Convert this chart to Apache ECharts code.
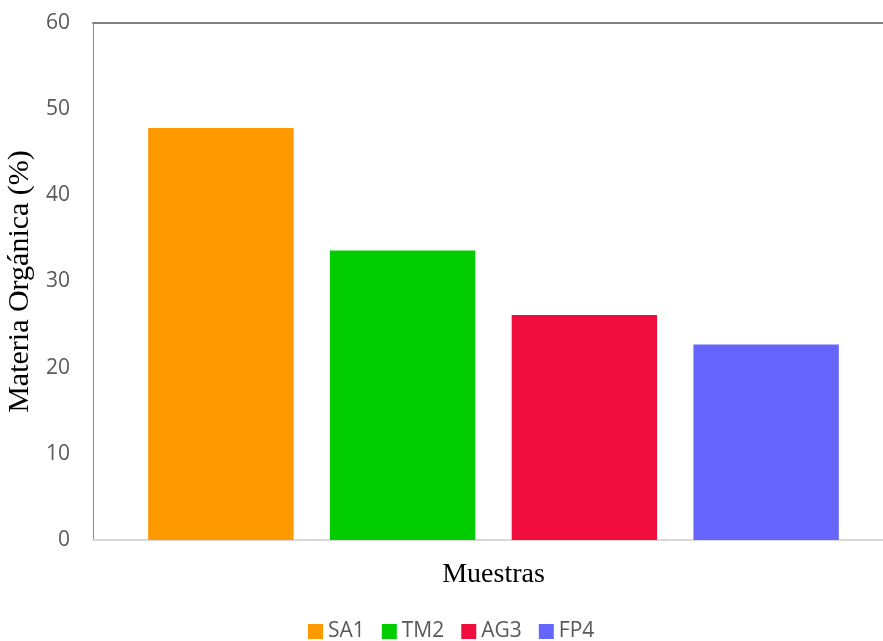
<!DOCTYPE html>
<html>
<head>
<meta charset="utf-8">
<script src="https://cdn.jsdelivr.net/npm/echarts@6/dist/echarts.min.js"></script>
<style>
  html, body { margin: 0; padding: 0; background: #ffffff; }
  #chart { width: 883px; height: 641px; }
</style>
</head>
<body>
<div id="chart"></div>
<script>
// Organic matter content per sample
const categories = ['SA1', 'TM2', 'AG3', 'FP4'];
const values = [47.8, 33.6, 26.1, 22.7];
const colors = ['#FF9900', '#00CC00', '#F20D3F', '#6666FF'];
const yTicks = { min: 0, max: 60, interval: 10 };

// One series per sample so each gets its own legend entry; stacking keeps bars full width
const barSeries = categories.map((name, i) => ({
  name: name,
  type: 'bar',
  stack: 'samples',
  xAxisIndex: 2,
  yAxisIndex: 1,
  barWidth: '80%',
  itemStyle: { color: colors[i] },
  data: categories.map((c, j) => (j === i ? values[i] : null))
}));

const chart = echarts.init(document.getElementById('chart'), null, { renderer: 'canvas' });

chart.setOption({
  animation: false,
  backgroundColor: '#ffffff',
  grid: [
    // outer frame with the value axis
    { left: 93, right: 0, top: 23, bottom: 101, containLabel: false, outerBoundsMode: 'none' },
    // plotting band for the bars
    { left: 130, width: 727, top: 23, bottom: 101, containLabel: false, outerBoundsMode: 'none' }
  ],
  xAxis: [
    {
      gridIndex: 0, type: 'value', position: 'bottom', min: 0, max: 1,
      axisLine: { show: true, lineStyle: { color: '#D9D9D9', width: 2 } },
      axisTick: { show: false }, axisLabel: { show: false }, splitLine: { show: false }
    },
    {
      gridIndex: 0, type: 'value', position: 'top', min: 0, max: 1,
      axisLine: { show: true, lineStyle: { color: '#808080', width: 2 } },
      axisTick: { show: false }, axisLabel: { show: false }, splitLine: { show: false }
    },
    {
      gridIndex: 1, type: 'category', data: categories, position: 'bottom',
      axisLine: { show: false }, axisTick: { show: false }, axisLabel: { show: false },
      name: 'Muestras', nameLocation: 'middle', nameGap: 21,
      nameTextStyle: { fontFamily: '"Liberation Serif", "Times New Roman", serif', fontSize: 28, color: '#000000' }
    }
  ],
  yAxis: [
    {
      gridIndex: 0, type: 'value', min: yTicks.min, max: yTicks.max, interval: yTicks.interval,
      axisLine: { show: true, onZero: false, lineStyle: { color: '#8C8C8C', width: 1 } },
      axisTick: { show: false }, splitLine: { show: false },
      axisLabel: { fontFamily: '"Open Sans", sans-serif', fontSize: 21, color: '#595959', margin: 23 },
      name: 'Materia Orgánica (%)', nameLocation: 'middle', nameGap: 57, nameRotate: 90,
      nameTextStyle: { fontFamily: '"Liberation Serif", "Times New Roman", serif', fontSize: 30, color: '#000000' }
    },
    {
      gridIndex: 1, type: 'value', min: yTicks.min, max: yTicks.max, interval: yTicks.interval,
      show: false
    }
  ],
  legend: {
    data: categories,
    left: 303, top: 616,
    icon: 'rect', itemWidth: 15, itemHeight: 15, itemGap: 17,
    textStyle: { fontFamily: '"Open Sans", sans-serif', fontSize: 21, color: '#595959' }
  },
  series: barSeries
});
</script>
</body>
</html>
